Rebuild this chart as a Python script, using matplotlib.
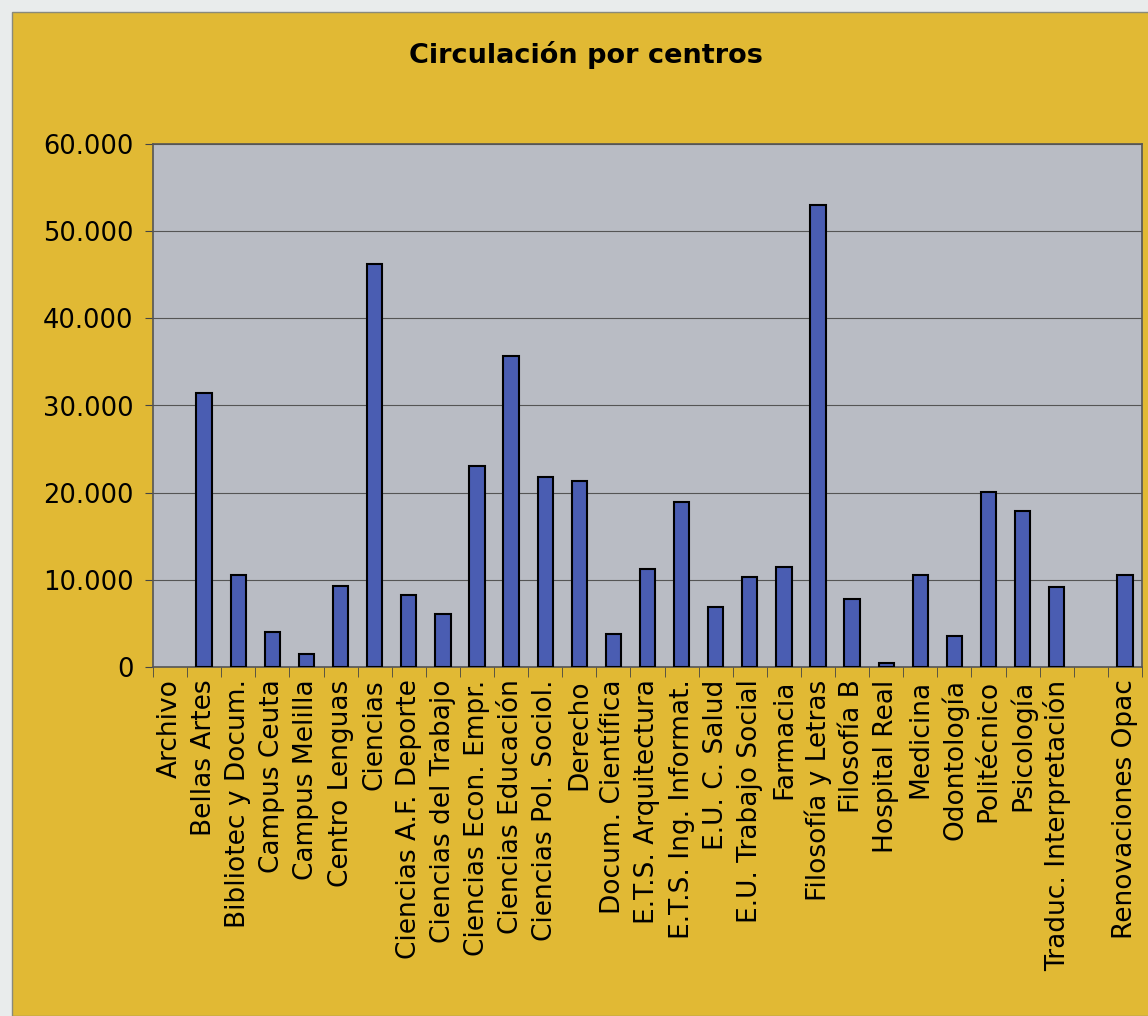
import matplotlib
matplotlib.use("Agg")
from matplotlib import pyplot as plt
from matplotlib.patches import Rectangle
import numpy as np

# datos
centros = ["Archivo", "Bellas Artes", "Bibliotec y Docum.", "Campus Ceuta",
           "Campus Melilla", "Centro Lenguas", "Ciencias",
           "Ciencias A.F. Deporte", "Ciencias del Trabajo",
           "Ciencias Econ. Empr.", "Ciencias Educación",
           "Ciencias Pol. Sociol.", "Derecho", "Docum. Científica",
           "E.T.S. Arquitectura", "E.T.S. Ing. Informat.", "E.U. C. Salud",
           "E.U. Trabajo Social", "Farmacia", "Filosofía y Letras",
           "Filosofía B", "Hospital Real", "Medicina", "Odontología",
           "Politécnico", "Psicología", "Traduc. Interpretación", "",
           "Renovaciones Opac"]
circulacion = [0, 31400, 10600, 4000, 1500, 9300, 46200,
               8300, 6100, 23100, 35700, 21800, 21300, 3800,
               11200, 18900, 6900, 10300, 11500, 53000,
               7800, 500, 10600, 3500, 20100, 17900, 9200, 0,
               10500]
yticks = [0, 10000, 20000, 30000, 40000, 50000, 60000]
ylabels = ["0", "10.000", "20.000", "30.000", "40.000", "50.000", "60.000"]

amarillo = "#E1B934"
gris = "#B9BCC4"
azul = "#4A5DB2"

fig = plt.figure(figsize=(11.48, 10.16), dpi=100)
fig.patch.set_facecolor("#E9ECEC")
fig.patches.append(Rectangle((12/1148, 0), 1, 1 - 12/1016, transform=fig.transFigure,
                             facecolor=amarillo, edgecolor="#8A8A7A", lw=1, zorder=-1))

ax = fig.add_axes([153/1148, 1 - 667/1016, (1142-153)/1148, (667-144)/1016])
ax.set_facecolor(gris)

x = np.arange(len(centros))
# sin borde para las barras vacias
bordes = [1.5 if v > 0 else 0 for v in circulacion]
ax.bar(x, circulacion, width=0.45, color=azul, edgecolor="black", linewidth=bordes, zorder=3)

ax.set_xlim(-0.5, len(centros) - 0.5)
ax.set_ylim(0, 60000)
ax.set_yticks(yticks)
ax.set_yticklabels(ylabels, fontsize=18.5)
ax.yaxis.grid(True, color="#555555", lw=0.8, zorder=1)

ax.set_xticks(x)
ax.set_xticklabels(centros, rotation=90, fontsize=19)
ax.tick_params(axis="x", which="major", length=0, pad=9)
ax.set_xticks(np.arange(len(centros) + 1) - 0.5, minor=True)
ax.tick_params(axis="x", which="minor", length=7, color="#444444", direction="out")
ax.tick_params(axis="y", length=6, color="#444444", pad=8)

for s in ax.spines.values():
    s.set_color("#555555")
    s.set_linewidth(1.2)

fig.text(586/1148, 1 - 55/1016, "Circulación por centros", ha="center", va="center",
         fontsize=19.5, fontweight="bold")

fig.savefig("out.png", dpi=100, facecolor=fig.get_facecolor())
